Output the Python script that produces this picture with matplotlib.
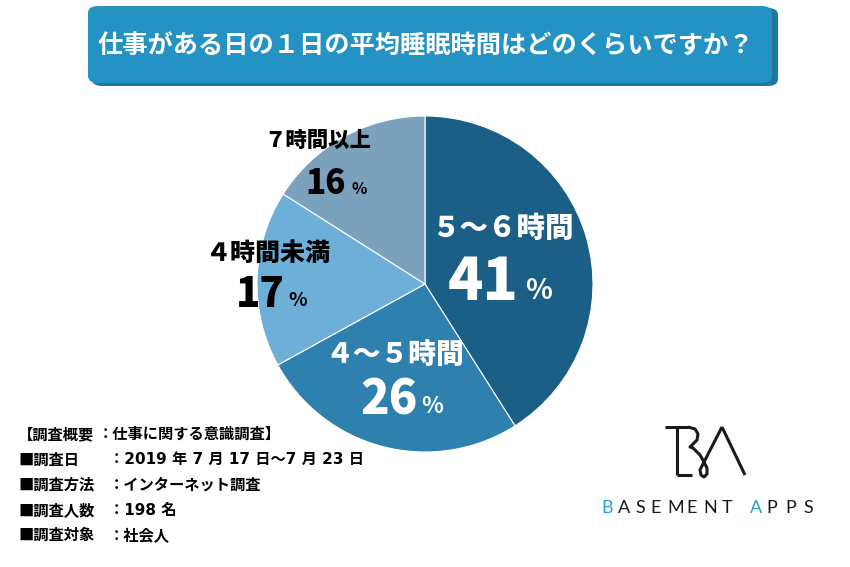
import matplotlib
matplotlib.use("Agg")
import matplotlib.pyplot as plt
from matplotlib.patches import FancyBboxPatch
from matplotlib.lines import Line2D

plt.rcParams['font.family'] = ['Noto Sans CJK JP', 'DejaVu Sans']

title = "仕事がある日の１日の平均睡眠時間はどのくらいですか？"
categories = ["５〜６時間", "４〜５時間", "４時間未満", "７時間以上"]
values = [41, 26, 17, 16]
colors = ["#1b5e86", "#2e80ae", "#6dafd9", "#7ba1bd"]
label_colors = ["white", "white", "black", "black"]
note_keys = ["【調査概要", "■調査日", "■調査方法", "■調査人数", "■調査対象"]
note_vals = ["：仕事に関する意識調査】", "：2019 年 7 月 17 日〜7 月 23 日",
             "：インターネット調査", "：198 名", "：社会人"]

W, H = 850, 567
fig = plt.figure(figsize=(W/100, H/100), dpi=100)

def fx(x): return x / W
def fy(y): return 1 - y / H

# title box
shadow = FancyBboxPatch((fx(92), fy(86)), fx(686), (78)/H, boxstyle="round,pad=0,rounding_size=0.012",
                        transform=fig.transFigure, fc="#1c77a3", ec="none")
box = FancyBboxPatch((fx(88), fy(83)), fx(684), (77)/H, boxstyle="round,pad=0,rounding_size=0.012",
                     transform=fig.transFigure, fc="#2592c4", ec="none")
fig.patches.extend([shadow, box])
fig.text(fx(426), fy(46), title, color="white", fontsize=18.2, fontweight="bold", ha="center", va="center")

# pie
cx, cy, r = 425, 284, 168
ax = fig.add_axes([fx(cx - r), fy(cy + r), 2*r/W, 2*r/H])
ax.pie(values, colors=colors, startangle=90, counterclock=False,
       wedgeprops=dict(edgecolor="white", linewidth=0.8))
ax.set_xlim(-1, 1); ax.set_ylim(-1, 1)
ax.set_aspect("equal")
ax.axis("off")

# labels: (label center, label size, number center, number size, pct center x)
lab = [
    ((502, 228), 20.5, (483, 283), 42, 539),
    ((395, 355), 20, (389, 400), 34, 432),
    ((268, 253), 18, (260, 295), 29, 298),
    ((318, 140), 15.4, (326, 184), 24, 359),
]
for (cat, v, lc, (lpos, lsz, npos, nsz, px)) in zip(categories, values, label_colors, lab):
    fig.text(fx(lpos[0]), fy(lpos[1]), cat, color=lc, fontsize=lsz, fontweight="black", ha="center", va="center")
    fig.text(fx(npos[0]), fy(npos[1]), str(v), color=lc, fontsize=nsz, fontweight="black", ha="center", va="center")
    fig.text(fx(px), fy(npos[1] + nsz*0.2), "%", color=lc, fontsize=nsz*0.48, fontweight="bold", ha="center", va="center")

# notes
for i, (k, v) in enumerate(zip(note_keys, note_vals)):
    y = fy(439 + i*25.3)
    fig.text(fx(18), y, k, color="black", fontsize=11, fontweight="bold", ha="left", va="baseline")
    fig.text(fx(98 if i == 0 else 109), y, v, color="black", fontsize=11, fontweight="bold", ha="left", va="baseline",
             family=['DejaVu Sans', 'Noto Sans CJK JP'])

# logo
lw = 2.2
def L(xs, ys, c="#1a1a1a"):
    fig.lines.append(Line2D([fx(x) for x in xs], [fy(y) for y in ys], transform=fig.transFigure,
                            color=c, lw=lw, solid_capstyle="butt", solid_joinstyle="round"))
L([665, 688], [427, 427])
L([677, 677], [427, 475])
L([677, 692], [475, 475])
L([688, 695, 698, 697, 693, 690, 693, 700, 704], [427, 429, 434, 440, 444, 447, 448, 455, 462])
L([722, 745], [427, 475])
L([722, 704, 700, 701, 704, 707, 707, 704], [427, 462, 470, 475, 477, 474, 468, 462])
letters = ["B", "A", "S", "E", "M", "E", "N", "T", "A", "P", "P", "S"]
lx = [607, 624, 640, 656, 676, 692, 710, 727, 756, 772, 791, 808]
lcol = ["#2a9fd6"] + ["#1a1a1a"] * 7 + ["#2a9fd6"] + ["#1a1a1a"] * 3
for ch, x, c in zip(letters, lx, lcol):
    fig.text(fx(x), fy(508), ch, color=c, fontsize=13, family="Lato", ha="center", va="center")

fig.savefig("out.png", dpi=100)
